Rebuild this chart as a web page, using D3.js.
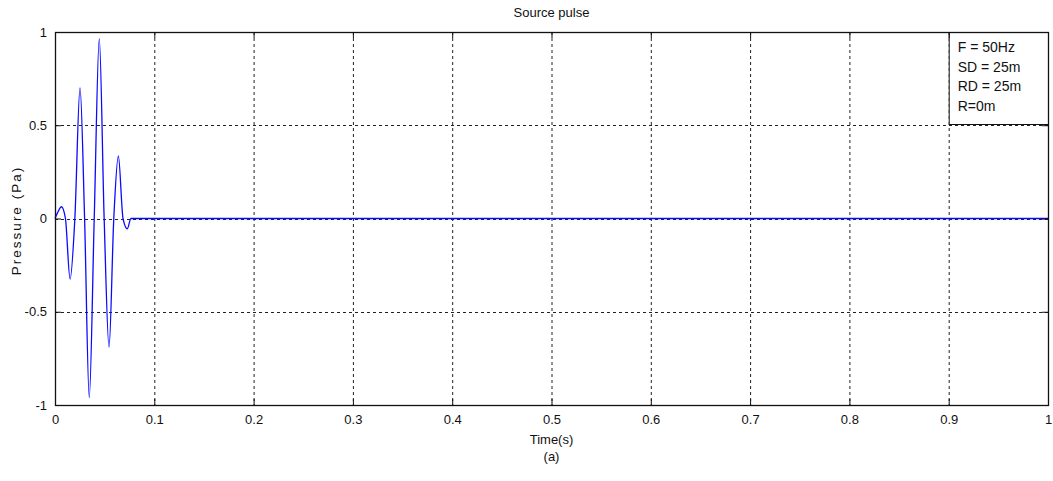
<!DOCTYPE html>
<html>
<head>
<meta charset="utf-8">
<script src="https://cdn.jsdelivr.net/npm/d3@7"></script>
<style>
  html, body { margin: 0; padding: 0; background: #fff; }
  svg { display: block; }
  text { font-family: "Liberation Sans", Arial, sans-serif; fill: #111; }
</style>
</head>
<body>
<svg id="chart" width="1053" height="481"></svg>
<script>
// Source pulse samples: time (s) and pressure (Pa) at peaks and zero crossings
const pulseTime = [0, 0.0025, 0.0065, 0.0105, 0.0152, 0.0200, 0.0252, 0.0298, 0.0345, 0.0395,
                   0.0446, 0.0495, 0.0544, 0.0592, 0.0638, 0.0685, 0.0728, 0.0765, 0.080, 1.0];
const pulsePressure = [0, 0.03, 0.063, 0, -0.325, 0, 0.70, 0, -0.96, 0,
                       0.965, 0, -0.69, 0, 0.335, 0, -0.055, 0, 0, 0];

const xTicks = [0, 0.1, 0.2, 0.3, 0.4, 0.5, 0.6, 0.7, 0.8, 0.9, 1];
const yTicks = [-1, -0.5, 0, 0.5, 1];
const yTickLabels = ["-1", "-0.5", "0", "0.5", "1"];
const infoLines = ["F = 50Hz", "SD = 25m", "RD = 25m", "R=0m"];

const svg = d3.select("#chart");
const plot = { left: 55, right: 1048, top: 32, bottom: 405 };

const x = d3.scaleLinear().domain([0, 1]).range([plot.left, plot.right]);
const y = d3.scaleLinear().domain([-1, 1]).range([plot.bottom, plot.top]);

// dotted grid
const grid = svg.append("g").attr("stroke", "#222").attr("stroke-width", 1)
  .attr("stroke-dasharray", "3,3").attr("fill", "none");
xTicks.slice(1, -1).forEach(t => {
  grid.append("line").attr("x1", x(t) + 0.5).attr("x2", x(t) + 0.5)
    .attr("y1", plot.top).attr("y2", plot.bottom);
});
yTicks.slice(1, -1).forEach(t => {
  grid.append("line").attr("x1", plot.left).attr("x2", plot.right)
    .attr("y1", Math.round(y(t)) + 0.5).attr("y2", Math.round(y(t)) + 0.5);
});

// annotation box with source/receiver parameters
const boxX0 = x(0.9), boxY1 = Math.round(y(0.5)) - 1;
svg.append("rect").attr("x", boxX0 + 0.5).attr("y", plot.top + 0.5)
  .attr("width", plot.right - boxX0).attr("height", boxY1 - plot.top)
  .attr("fill", "#fff").attr("stroke", "#111").attr("stroke-width", 1);
svg.append("g").selectAll("text").data(infoLines).join("text")
  .attr("x", boxX0 + 9)
  .attr("y", (d, i) => 52 + i * 19.5)
  .attr("font-size", 14)
  .text(d => d);

// pulse trace
const pts = pulseTime.map((t, i) => [t, pulsePressure[i]]);
svg.append("path").datum(pts)
  .attr("fill", "none").attr("stroke", "#0a0aff").attr("stroke-width", 1.3)
  .attr("d", d3.line().x(d => x(d[0])).y(d => y(d[1])).curve(d3.curveMonotoneX));

// axes box with inward ticks
const xAxisB = d3.axisBottom(x).tickValues(xTicks).tickSizeInner(-6).tickSizeOuter(0)
  .tickPadding(10).tickFormat(d3.format("~g"));
const xAxisT = d3.axisTop(x).tickValues(xTicks).tickSizeInner(-6).tickSizeOuter(0).tickFormat("");
const yAxisL = d3.axisLeft(y).tickValues(yTicks).tickSizeInner(-6).tickSizeOuter(0)
  .tickPadding(8).tickFormat((d, i) => yTickLabels[i]);
const yAxisR = d3.axisRight(y).tickValues(yTicks).tickSizeInner(-6).tickSizeOuter(0).tickFormat("");

function styleAxis(g) {
  g.select(".domain").remove();
  g.selectAll("line").attr("stroke", "#111");
  g.selectAll("text").attr("font-size", 13).attr("font-family", "Liberation Sans, Arial, sans-serif").attr("fill", "#111");
}
svg.append("g").attr("transform", `translate(0,${plot.bottom})`).call(xAxisB).call(styleAxis);
svg.append("g").attr("transform", `translate(0,${plot.top})`).call(xAxisT).call(styleAxis);
svg.append("g").attr("transform", `translate(${plot.left},0)`).call(yAxisL).call(styleAxis);
svg.append("g").attr("transform", `translate(${plot.right},0)`).call(yAxisR).call(styleAxis);

svg.append("rect").attr("x", plot.left + 0.5).attr("y", plot.top + 0.5)
  .attr("width", plot.right - plot.left).attr("height", plot.bottom - plot.top)
  .attr("fill", "none").attr("stroke", "#111").attr("stroke-width", 1.3);

// titles
svg.append("text").attr("x", (plot.left + plot.right) / 2).attr("y", 17)
  .attr("text-anchor", "middle").attr("font-size", 13).text("Source pulse");
svg.append("text").attr("x", (plot.left + plot.right) / 2).attr("y", 444)
  .attr("text-anchor", "middle").attr("font-size", 13).text("Time(s)");
svg.append("text").attr("x", (plot.left + plot.right) / 2).attr("y", 461)
  .attr("text-anchor", "middle").attr("font-size", 13).text("(a)");
svg.append("text").attr("transform", `translate(21,${(plot.top + plot.bottom) / 2 + 2}) rotate(-90)`)
  .attr("text-anchor", "middle").attr("font-size", 13.5).attr("letter-spacing", 2)
  .text("Pressure (Pa)");
</script>
</body>
</html>
